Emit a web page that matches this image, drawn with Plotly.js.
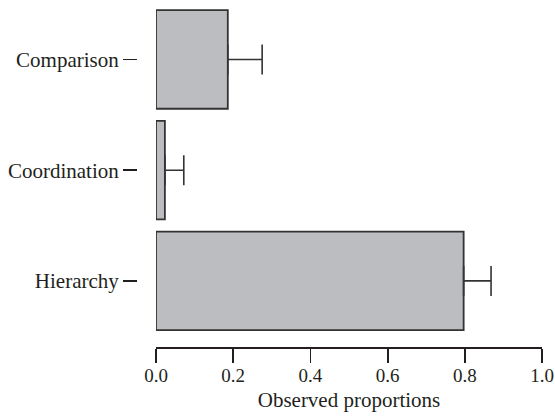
<!DOCTYPE html>
<html>
<head>
<meta charset="utf-8">
<script src="https://cdn.plot.ly/plotly-3.0.1.min.js"></script>
<style>html,body{margin:0;padding:0;background:#fff;}#chart{width:555px;height:416px;}</style>
</head>
<body>
<div id="chart"></div>
<script>
const categories = ["Hierarchy", "Coordination", "Comparison"];
const proportions = [0.797, 0.023, 0.186];
const errorPlus = [0.071, 0.049, 0.089];
const xTickValues = [0, 0.2, 0.4, 0.6, 0.8, 1.0];
const xTickLabels = ["0.0", "0.2", "0.4", "0.6", "0.8", "1.0"];

const ink = "#231f20";
const trace = {
  type: "bar",
  orientation: "h",
  y: categories,
  x: proportions,
  width: 0.89,
  marker: {color: "#bcbdc1", line: {color: "#333", width: 1.8}},
  error_x: {type: "data", symmetric: false, array: errorPlus, arrayminus: proportions.map(() => 0),
            color: "#333", thickness: 1.6, width: 15},
  hoverinfo: "skip"
};

const layout = {
  width: 555, height: 416,
  margin: {l: 100, r: 13, t: 0, b: 69},
  paper_bgcolor: "#fff", plot_bgcolor: "#fff",
  showlegend: false,
  font: {family: "Liberation Serif, Times New Roman, serif", color: ink, size: 18},
  xaxis: {
    domain: [0.1267, 1],
    range: [0, 1],
    tickvals: xTickValues, ticktext: xTickLabels,
    ticks: "outside", ticklen: 14, tickwidth: 1.8, tickcolor: ink,
    ticklabelstandoff: -4,
    showline: true, linecolor: ink, linewidth: 1.8,
    showgrid: false, zeroline: false,
    tickfont: {size: 19},
    title: {text: "Observed proportions", font: {size: 21}, standoff: 8},
    automargin: false, fixedrange: true
  },
  yaxis: {
    anchor: "free", position: 0.0837,
    type: "category",
    categoryorder: "array", categoryarray: categories,
    range: [-0.597, 2.537],
    ticks: "outside", ticklen: 14, tickwidth: 1.8, tickcolor: ink,
    showline: false, showgrid: false, zeroline: false,
    tickfont: {size: 21},
    automargin: false, fixedrange: true
  }
};

Plotly.newPlot("chart", [trace], layout, {displayModeBar: false, staticPlot: true});
</script>
</body>
</html>
